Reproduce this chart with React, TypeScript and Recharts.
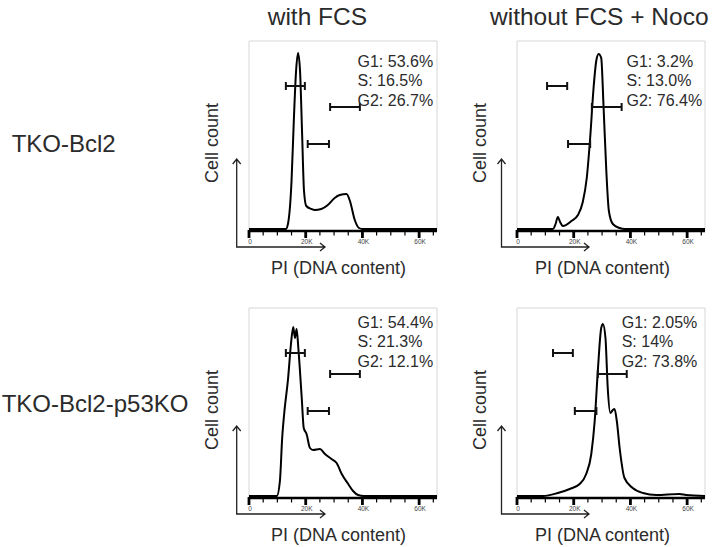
import React from "react";
import { ComposedChart, Line, XAxis, YAxis, ReferenceLine, ReferenceArea } from "recharts";

// PI signal (in thousands) and cell counts
const piBcl2Fcs = [0, 13.0, 13.8, 15.0, 15.8, 16.6, 17.3, 18.0, 18.7, 19.4, 20.2, 22.0, 23.2, 25.5, 27.8, 30.2, 32.0, 34.4, 35.6, 37.3, 38.8, 40.0, 66.3];
const cellsBcl2Fcs = [0, 0, 6, 48, 108, 158, 176, 158, 98, 38, 23, 20, 19, 20, 24, 31, 34, 35, 28, 9, 1, 0, 0];

const piBcl2Noco = [0, 12.7, 13.6, 14.4, 15.2, 16.2, 19.2, 21.5, 23.2, 24.6, 25.8, 27.0, 28.0, 28.8, 29.7, 30.5, 31.5, 32.4, 33.8, 36.2, 38.0, 66.3];
const cellsBcl2Noco = [0, 0, 5, 12, 7, 3, 8, 14, 27, 51, 91, 141, 169, 175, 171, 124, 58, 18, 5, 1, 0, 0];

const piP53Fcs = [0, 9.8, 10.9, 11.7, 12.4, 13.8, 14.8, 15.6, 16.2, 16.8, 17.4, 18.6, 19.3, 20.3, 21.5, 22.6, 25.0, 26.8, 29.1, 30.9, 32.7, 35.0, 36.7, 38.5, 40.5, 66.3];
const cellsP53Fcs = [0, 0, 15, 58, 82, 118, 152, 169, 158, 167, 148, 98, 68, 62, 48, 46, 47, 42, 37, 33, 22, 12, 5, 1, 0, 0];

const piP53Noco = [0, 9.2, 14.4, 18.6, 22.1, 24.4, 26.2, 27.4, 28.5, 29.7, 30.3, 31.2, 32.0, 32.9, 33.8, 34.4, 35.2, 36.2, 37.9, 40.8, 44.4, 49.1, 57.3, 59.6, 66.3];
const cellsP53Noco = [0, 0, 3, 7, 12, 22, 42, 75, 125, 168, 172, 158, 108, 83, 86, 87, 75, 48, 18, 8, 3, 1, 2, 1, 0];

// gate ranges (G1, S, G2) in thousands, and the count level each gate is drawn at
const gateNames = ["G1", "S", "G2"];
const gateLevels = [143, 85, 122];
const gatesBcl2Fcs = [[13.0, 19.7], [20.7, 28.2], [28.6, 39.1]];
const gatesBcl2Noco = [[10.6, 17.7], [18.0, 25.8], [26.4, 36.9]];
const gatesP53Fcs = [[13.0, 19.7], [20.7, 28.2], [28.6, 39.1]];
const gatesP53Noco = [[12.7, 19.7], [20.4, 28.0], [28.5, 38.7]];

const pctBcl2Fcs = ["53.6", "16.5", "26.7"];
const pctBcl2Noco = ["3.2", "13.0", "76.4"];
const pctP53Fcs = ["54.4", "21.3", "12.1"];
const pctP53Noco = ["2.05", "14", "73.8"];

const columnTitles = ["with FCS", "without FCS + Noco"];
const rowTitles = ["TKO-Bcl2", "TKO-Bcl2-p53KO"];

const piTicks = [0, 5, 10, 15, 20, 25, 30, 35, 40, 45, 50, 55, 60, 65];
const piMax = 66.3;

const FONT = "'Liberation Sans', Arial, Helvetica, sans-serif";
const INK = "#2b2b2b";

const PLOT_W = 188;
const PLOT_H = 190;
const colLeft = [249, 517];
const rowTop = [41, 308];

const panels = [
  { row: 0, col: 0, pi: piBcl2Fcs, cells: cellsBcl2Fcs, gates: gatesBcl2Fcs, pct: pctBcl2Fcs, statX: 357.5 },
  { row: 0, col: 1, pi: piBcl2Noco, cells: cellsBcl2Noco, gates: gatesBcl2Noco, pct: pctBcl2Noco, statX: 626.5 },
  { row: 1, col: 0, pi: piP53Fcs, cells: cellsP53Fcs, gates: gatesP53Fcs, pct: pctP53Fcs, statX: 357.5 },
  { row: 1, col: 1, pi: piP53Noco, cells: cellsP53Noco, gates: gatesP53Noco, pct: pctP53Noco, statX: 621.7 },
];

const renderPiTick = (props: any) => {
  const { x, y, payload } = props;
  const v = payload.value;
  const major = v % 20 === 0;
  return (
    <g>
      {major ? (
        <rect x={x - 1.4} y={y - 1} width={2.8} height={8} fill="#000" />
      ) : (
        <line x1={x} x2={x} y1={y} y2={y + 4.5} stroke="#000" strokeWidth={1.2} />
      )}
      {major && (
        <text x={x + 1} y={y + 13} textAnchor="middle" fontSize={6.5} fontFamily={FONT} fill="#444">
          {v === 0 ? "0" : `${v}K`}
        </text>
      )}
    </g>
  );
};

function Histogram({ pi, cells, gates, left, top }: any) {
  const data = pi.map((p: number, i: number) => ({ pi: p, count: cells[i] }));
  const gateLines = gates.flatMap((g: number[], i: number) => {
    const lvl = gateLevels[i];
    return [
      <ReferenceLine key={`h${i}`} segment={[{ x: g[0], y: lvl }, { x: g[1], y: lvl }]} stroke="#111" strokeWidth={2} />,
      <ReferenceLine key={`a${i}`} segment={[{ x: g[0], y: lvl - 4 }, { x: g[0], y: lvl + 4 }]} stroke="#111" strokeWidth={2} />,
      <ReferenceLine key={`b${i}`} segment={[{ x: g[1], y: lvl - 4 }, { x: g[1], y: lvl + 4 }]} stroke="#111" strokeWidth={2} />,
    ];
  });
  return (
    <div style={{ position: "absolute", left: left - 2, top: top - 2 }}>
      <ComposedChart width={PLOT_W + 4} height={PLOT_H + 20} data={data} margin={{ top: 2, right: 2, bottom: 0, left: 2 }}>
        <XAxis
          dataKey="pi"
          type="number"
          domain={[0, piMax]}
          ticks={piTicks}
          interval={0}
          height={18}
          allowDataOverflow
          axisLine={{ stroke: "#000", strokeWidth: 2.5 }}
          tickLine={false}
          tickSize={0}
          tickMargin={0}
          tick={renderPiTick}
        />
        <YAxis hide type="number" domain={[-2, 188]} allowDataOverflow />
        <ReferenceArea x1={0} x2={piMax} y1={-2} y2={188} fill="none" fillOpacity={0} stroke="#d6d6d6" strokeWidth={1} />
        <Line dataKey="count" type="monotone" stroke="#000" strokeWidth={2} dot={false} isAnimationActive={false} />
        {gateLines}
      </ComposedChart>
    </div>
  );
}

export default function App() {
  const arrowDx = [-12.3, -15.5];
  const arrowEnd = [76, 72];
  const piLabelDx = [89.6, 85.5];
  const statTop = [66.5, 327.5];
  return (
    <div style={{ position: "absolute", left: 0, top: 0, width: 713, height: 547, background: "#fff", fontFamily: FONT, overflow: "hidden" }}>
      {panels.map((p, i) => (
        <Histogram key={i} pi={p.pi} cells={p.cells} gates={p.gates} left={colLeft[p.col]} top={rowTop[p.row]} />
      ))}
      <svg width={713} height={547} style={{ position: "absolute", left: 0, top: 0, pointerEvents: "none" }}>
        <text x={267.7} y={25} fontSize={24.5} fill={INK} fontFamily={FONT}>{columnTitles[0]}</text>
        <text x={490} y={25} fontSize={24.5} fill={INK} fontFamily={FONT}>{columnTitles[1]}</text>
        <text x={11.7} y={151.6} fontSize={24} fill={INK} fontFamily={FONT}>{rowTitles[0]}</text>
        <text x={1.7} y={411.5} fontSize={24} fill={INK} fontFamily={FONT}>{rowTitles[1]}</text>
        {panels.map((p, i) => {
          const pl = colLeft[p.col];
          const pb = rowTop[p.row] + PLOT_H;
          const ax = pl + arrowDx[p.col];
          const ay = pb - 72;
          const hy = pb + 16;
          const ex = pl + arrowEnd[p.col];
          return (
            <g key={i}>
              <path
                d={`M${ax},${ay} L${ax},${hy} L${ex},${hy} M${ax - 4},${ay + 5} L${ax},${ay} L${ax + 4},${ay + 5} M${ex - 5},${hy - 4} L${ex},${hy} L${ex - 5},${hy + 4}`}
                fill="none"
                stroke="#222"
                strokeWidth={1.3}
              />
              <text
                x={pl - 37.3}
                y={pb - 88}
                transform={`rotate(-90 ${pl - 37.3} ${pb - 88})`}
                textAnchor="middle"
                dominantBaseline="central"
                fontSize={18}
                fill={INK}
                fontFamily={FONT}
              >
                Cell count
              </text>
              <text x={pl + piLabelDx[p.col]} y={pb + 42.5} textAnchor="middle" fontSize={18} fill={INK} fontFamily={FONT}>
                PI (DNA content)
              </text>
              {gateNames.map((g, k) => (
                <text key={g} x={p.statX} y={statTop[p.row] + k * 19.5} fontSize={16} fill={INK} fontFamily={FONT}>
                  {`${g}: ${p.pct[k]}%`}
                </text>
              ))}
            </g>
          );
        })}
      </svg>
    </div>
  );
}
